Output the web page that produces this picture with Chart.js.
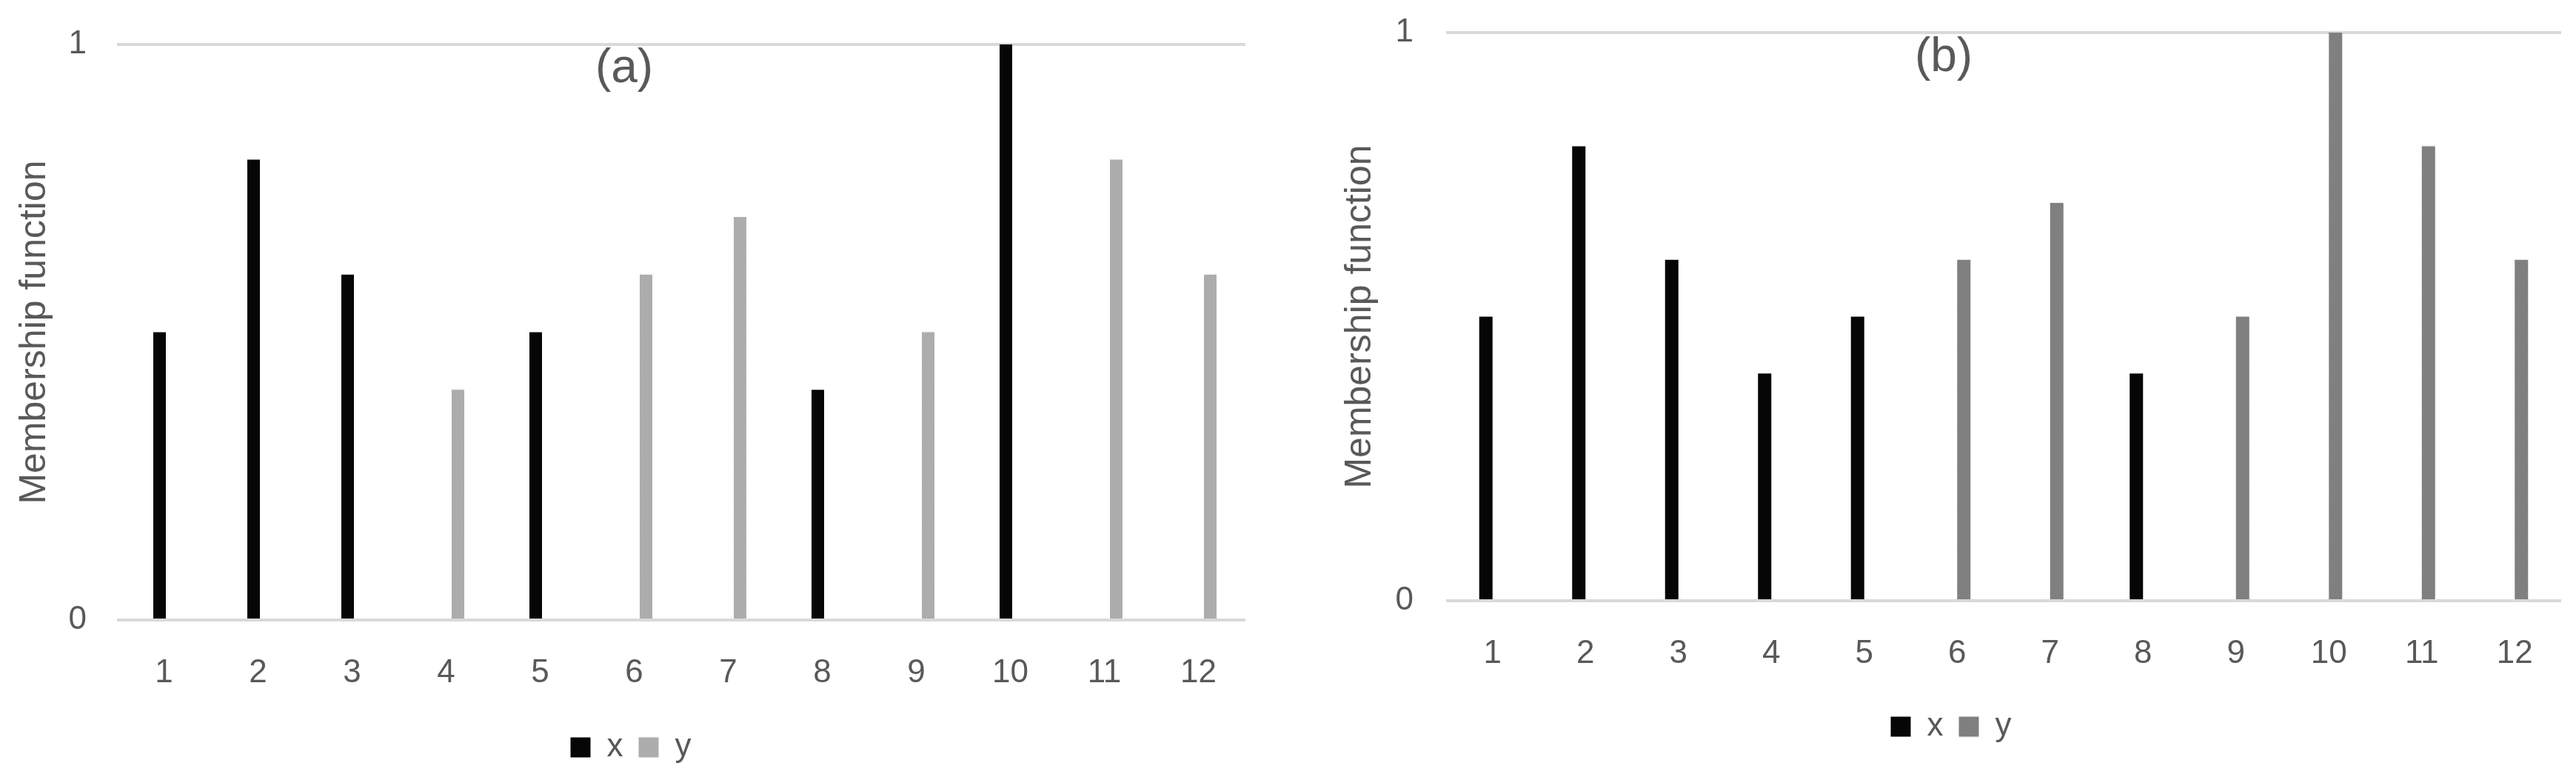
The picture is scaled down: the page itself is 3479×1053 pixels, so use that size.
<!DOCTYPE html>
<html>
<head>
<meta charset="utf-8">
<title>Membership function (a) (b)</title>
<script src="https://cdn.jsdelivr.net/npm/chart.js@4.4.1/dist/chart.umd.min.js"></script>
<style>
  body { margin: 0; background: #fff; }
  .panel { position: absolute; top: 0; }
</style>
</head>
<body>
<div class="panel" style="left:0"><canvas id="chartA" width="1745" height="1053"></canvas></div>
<div class="panel" style="left:1745px"><canvas id="chartB" width="1734" height="1053"></canvas></div>
<script>
// values
const categories = ['1', '2', '3', '4', '5', '6', '7', '8', '9', '10', '11', '12'];
const yTicks = [0, 1];

// panel (a)
const xA = [0.5, 0.8, 0.6, null, 0.5, null, null, 0.4, null, 1, null, null];
const yA = [null, null, null, 0.4, null, 0.6, 0.7, null, 0.5, null, 0.8, 0.6];

// panel (b)
const xB = [0.5, 0.8, 0.6, 0.4, 0.5, null, null, 0.4, null, null, null, null];
const yB = [null, null, null, null, null, 0.6, 0.7, null, 0.5, 1, 0.8, 0.6];

Chart.defaults.font.family = '"Liberation Sans", Arial, sans-serif';
Chart.defaults.color = '#595959';

// checkered fill like the excel pattern
function checker(dark, light) {
  const c = document.createElement('canvas');
  c.width = 2; c.height = 2;
  const g = c.getContext('2d');
  g.fillStyle = light; g.fillRect(0, 0, 2, 2);
  g.fillStyle = dark; g.fillRect(0, 0, 1, 1); g.fillRect(1, 1, 1, 1);
  return g.createPattern(c, 'repeat');
}

// "(a)" / "(b)" sits inside the plot, so draw it ourselves
const panelTitle = {
  id: 'panelTitle',
  afterDraw(chart, args, opts) {
    const ctx = chart.ctx;
    ctx.save();
    ctx.font = '64px "Liberation Sans", Arial, sans-serif';
    ctx.fillStyle = '#595959';
    ctx.textAlign = 'center';
    ctx.textBaseline = 'middle';
    ctx.fillText(opts.text, opts.x, opts.y);
    ctx.restore();
  }
};

function makeChart(id, cfg) {
  return new Chart(document.getElementById(id), {
    type: 'bar',
    data: {
      labels: categories,
      datasets: [
        {
          label: 'x',
          data: cfg.x,
          backgroundColor: '#060606',
          borderWidth: 0,
          categoryPercentage: cfg.barX[0],
          barPercentage: cfg.barX[1],
        },
        {
          label: 'y',
          data: cfg.y,
          backgroundColor: cfg.yFill,
          borderWidth: 0,
          categoryPercentage: cfg.barY[0],
          barPercentage: cfg.barY[1],
        },
      ],
    },
    plugins: [panelTitle],
    options: {
      responsive: false,
      animation: false,
      layout: { padding: cfg.padding },
      scales: {
        x: {
          grid: { display: false },
          border: { display: false },
          ticks: { font: { size: 44 }, padding: 37, maxRotation: 0 },
          afterFit: (s) => { s.height = cfg.xHeight; },
        },
        y: {
          min: 0,
          max: 1,
          afterBuildTicks: (s) => { s.ticks = yTicks.map(v => ({ value: v })); },
          // invisible tick marks push the labels left without adding top padding
          grid: { color: '#d9d9d9', lineWidth: 4, drawTicks: true, tickLength: cfg.yTickPad, tickColor: 'rgba(0,0,0,0)' },
          border: { display: false },
          ticks: { font: { size: 44 }, padding: 0 },
          title: {
            display: true,
            text: 'Membership function',
            font: { size: 50, lineHeight: 1 },
            padding: { top: cfg.yTitlePad, bottom: 0 },
          },
          afterFit: (s) => { s.width = cfg.yWidth; },
        },
      },
      plugins: {
        legend: {
          position: 'bottom',
          labels: { boxWidth: 27, boxHeight: 27, padding: 21, font: { size: 44 } },
        },
        tooltip: { enabled: false },
        panelTitle: cfg.title,
      },
    },
  });
}

makeChart('chartA', {
  x: xA,
  y: yA,
  yFill: checker('#5a5a5a', '#ffffff'),
  barX: [0.189, 1.417],
  barY: [0.504, 0.531],
  padding: { top: 60, left: 22, right: 63, bottom: 12 },
  yWidth: 136,
  yTickPad: 41,
  yTitlePad: 0,
  xHeight: 129,
  title: { text: '(a)', x: 843, y: 93 },
});

makeChart('chartB', {
  x: xB,
  y: yB,
  yFill: checker('#000000', '#ffffff'),
  barX: [0.287, 1],
  barY: [0.287, 1],
  padding: { top: 44, left: 66, right: 20, bottom: 40 },
  yWidth: 142,
  yTickPad: 44,
  yTitlePad: 1,
  xHeight: 127,
  title: { text: '(b)', x: 880, y: 78 },
});
</script>
</body>
</html>
